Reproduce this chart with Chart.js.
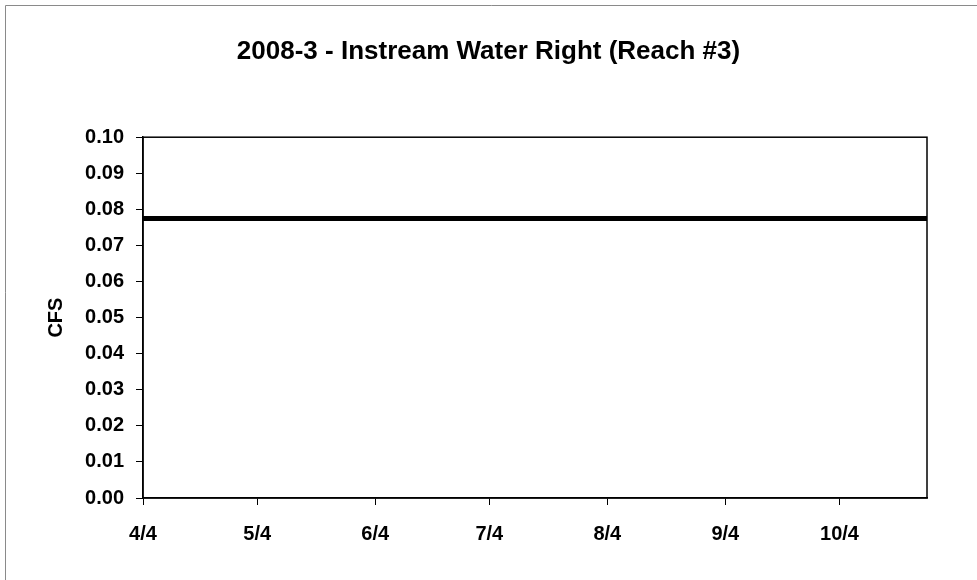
<!DOCTYPE html>
<html>
<head>
<meta charset="utf-8">
<script src="https://cdn.jsdelivr.net/npm/chart.js@4"></script>
<style>
  html, body { margin: 0; padding: 0; background: #fff; }
  #wrap { width: 977px; height: 580px; }
</style>
</head>
<body>
<div id="wrap"><canvas id="myChart" width="977" height="580"></canvas></div>
<script>
// days counted from 4/4
const tickDays = [0, 30, 61, 91, 122, 153, 183];
const tickLabels = ['4/4', '5/4', '6/4', '7/4', '8/4', '9/4', '10/4'];
const seriesDays = [0, 206];
const seriesValues = [0.0775, 0.0775];
const yTicks = [0, 0.01, 0.02, 0.03, 0.04, 0.05, 0.06, 0.07, 0.08, 0.09, 0.10];

const points = seriesDays.map((d, i) => ({ x: d, y: seriesValues[i] }));

// box around plot area + thin page frame lines
const framePlugin = {
  id: 'frame',
  afterDraw(chart) {
    const ctx = chart.ctx;
    const a = chart.chartArea;
    ctx.save();
    ctx.strokeStyle = '#000';
    ctx.lineWidth = 1.5;
    ctx.strokeRect(a.left, a.top, a.right - a.left, a.bottom - a.top);
    ctx.strokeStyle = '#8a8a8a';
    ctx.lineWidth = 1;
    ctx.beginPath();
    ctx.moveTo(5.5, 580);
    ctx.lineTo(5.5, 5.5);
    ctx.lineTo(977, 5.5);
    ctx.stroke();
    ctx.restore();
  }
};

const font = { family: '"Liberation Sans", Arial, sans-serif', weight: 'bold' };

const ctx = document.getElementById('myChart').getContext('2d');
const myChart = new Chart(ctx, {
  type: 'line',
  data: {
    datasets: [{
      label: 'Instream Water Right',
      data: points,
      borderColor: '#000',
      borderWidth: 5,
      pointRadius: 0,
      fill: false
    }]
  },
  options: {
    responsive: false,
    animation: false,
    layout: { padding: 0 },
    plugins: {
      legend: { display: false },
      tooltip: { enabled: false },
      title: {
        display: true,
        text: '2008-3 - Instream Water Right (Reach #3)',
        color: '#000',
        font: { ...font, size: 26 },
        padding: { top: 36, bottom: 70 }
      }
    },
    scales: {
      x: {
        type: 'linear',
        min: 0,
        max: 206,
        afterBuildTicks(axis) {
          axis.ticks = tickDays.map(v => ({ value: v }));
        },
        afterFit(axis) { axis.height = 82; },
        ticks: {
          color: '#000',
          font: { ...font, size: 20 },
          padding: 17,
          maxRotation: 0,
          autoSkip: false,
          callback: (v) => tickLabels[tickDays.indexOf(v)]
        },
        grid: { drawOnChartArea: false, drawTicks: true, tickLength: 7, color: '#000' },
        border: { color: '#000', width: 1.5 }
      },
      y: {
        min: 0,
        max: 0.1,
        afterBuildTicks(axis) {
          axis.ticks = yTicks.map(v => ({ value: v }));
        },
        afterFit(axis) { axis.width = 143; },
        ticks: {
          color: '#000',
          font: { ...font, size: 20 },
          padding: 12,
          callback: (v) => v.toFixed(2)
        },
        grid: { drawOnChartArea: false, drawTicks: true, tickLength: 7, color: '#000' },
        border: { color: '#000', width: 1.5 },
        title: {
          display: true,
          text: 'CFS',
          color: '#000',
          font: { ...font, size: 20 },
          padding: { top: 44, bottom: 0 }
        }
      },
      // empty right-hand space so the title centres on the whole page
      yRight: {
        position: 'right',
        min: 0,
        max: 0.1,
        afterFit(axis) { axis.width = 50; },
        ticks: { display: false },
        grid: { display: false },
        border: { display: false }
      }
    }
  },
  plugins: [framePlugin]
});
</script>
</body>
</html>
